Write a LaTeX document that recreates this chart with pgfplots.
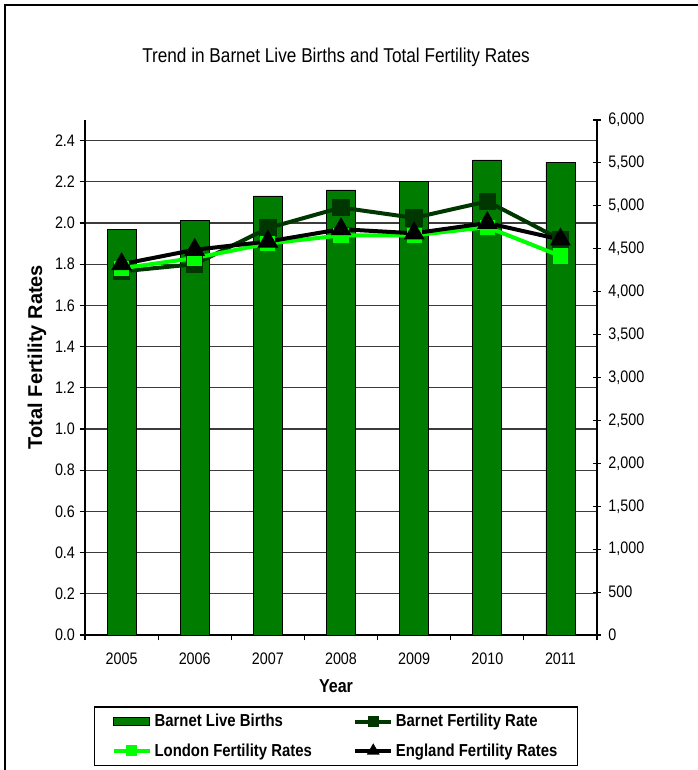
\documentclass[border=0pt]{standalone}
\usepackage{fontspec}
\setmainfont{Liberation Sans}[FakeStretch=0.86]
\newfontfamily\widesans{Liberation Sans}
\usepackage{pgfplots}
\pgfplotsset{compat=1.18}

\definecolor{barfill}{RGB}{0,125,0}
\definecolor{barnetline}{RGB}{0,55,0}
\definecolor{londonline}{RGB}{0,255,0}
\definecolor{gridgray}{RGB}{60,60,60}

% Barnet live births (right axis)
\pgfplotstableread{
x births
0 4720
1 4830
2 5115
3 5185
4 5280
5 5535
6 5505
}\births

% Total fertility rates (left axis)
\pgfplotstableread{
x barnet london england
0 1.765 1.780 1.800
1 1.800 1.830 1.870
2 1.975 1.900 1.910
3 2.075 1.940 1.970
4 2.025 1.940 1.950
5 2.105 1.980 2.000
6 1.920 1.840 1.920
}\rates

\begin{document}
\begin{tikzpicture}[x=0.75pt,y=0.75pt]
\useasboundingbox (0,0) rectangle (698,770);
% outer chart frame
\draw[line width=1.2pt] (5,-20) -- (5,765) -- (720,765);

\node[font=\fontsize{15}{17}\selectfont] at (336,713) {Trend in Barnet Live Births and Total Fertility Rates};
\node[font=\widesans\bfseries\fontsize{15}{17}\selectfont, rotate=90] at (37,413) {Total Fertility Rates};
\node[font=\bfseries\fontsize{14}{16}\selectfont] at (336,84) {Year};

% left axis, grid and categories
\begin{axis}[
  at={(63.75pt,101.25pt)}, anchor=south west,
  scale only axis, width=384pt, height=386.25pt,
  xmin=-0.5, xmax=6.5, ymin=0, ymax=2.5,
  axis x line*=bottom, axis y line*=left,
  axis line style={line width=1pt, -},
  xtick={0,...,6},
  xticklabels={2005,2006,2007,2008,2009,2010,2011},
  major x tick style={draw=none},
  minor xtick={-0.5,0.5,1.5,2.5,3.5,4.5,5.5,6.5},
  minor x tick style={line width=0.8pt, black},
  minor tick length=4pt,
  ytick={0,0.2,0.4,0.6,0.8,1.0,1.2,1.4,1.6,1.8,2.0,2.2,2.4},
  major y tick style={line width=0.8pt, black},
  major tick length=4pt,
  tick align=outside,
  ymajorgrids,
  major grid style={gridgray, line width=0.9pt},
  yticklabel style={/pgf/number format/.cd, fixed, fixed zerofill, precision=1, assume math mode=true},
  xticklabel style={yshift=-6pt},
  ticklabel style={font=\fontsize{12.5}{14}\selectfont},
]
\end{axis}

% right axis with the live-birth bars
\begin{axis}[
  at={(63.75pt,101.25pt)}, anchor=south west,
  scale only axis, width=384pt, height=386.25pt,
  xmin=-0.5, xmax=6.5, ymin=0, ymax=6000,
  axis x line=none, axis y line*=right,
  axis line style={line width=1pt, -},
  ytick={0,500,...,6000},
  major tick length=6pt, tick align=center,
  major y tick style={line width=0.8pt, black},
  yticklabel style={/pgf/number format/.cd, 1000 sep={,}, assume math mode=true},
  ticklabel style={font=\fontsize{12.5}{14}\selectfont, xshift=2pt},
]
\addplot[ybar, bar width=21.75pt, fill=barfill, draw=black, line width=0.6pt]
  table[x=x, y=births] {\births};
\end{axis}

% fertility-rate lines on the left scale
\begin{axis}[
  at={(63.75pt,101.25pt)}, anchor=south west,
  scale only axis, width=384pt, height=386.25pt,
  xmin=-0.5, xmax=6.5, ymin=0, ymax=2.5,
  hide axis,
  legend columns=2,
  legend style={at={(0.0175,-0.1385)}, anchor=north west,
    draw=black, line width=0.9pt, inner xsep=13pt, inner ysep=3.5pt,
    font=\bfseries\fontsize{13}{15}\selectfont,
    row sep=7pt,
    /tikz/every even column/.append style={column sep=29pt}},
  legend cell align=left,
  legend image code/.code={%
    \draw[mark repeat=2, mark phase=2, mark size=2.6pt] plot coordinates {(0pt,0pt) (13.5pt,0pt) (27pt,0pt)};},
]
\addlegendimage{legend image code/.code={\draw[fill=barfill, draw=black, line width=0.6pt] (0pt,-3.2pt) rectangle (27pt,3.2pt);}}
\addlegendentry{Barnet Live Births}
\addplot[barnetline, line width=3pt, mark=square*, mark size=5pt, mark options={solid}]
  table[x=x, y=barnet] {\rates};
\addlegendentry{Barnet Fertility Rate}
\addplot[londonline, line width=3pt, mark=square*, mark size=4.2pt]
  table[x=x, y=london] {\rates};
\addlegendentry{London Fertility Rates}
\addplot[black, line width=3pt, mark=triangle*, mark size=6pt]
  table[x=x, y=england] {\rates};
\addlegendentry{England Fertility Rates}
\end{axis}
\end{tikzpicture}
\end{document}
